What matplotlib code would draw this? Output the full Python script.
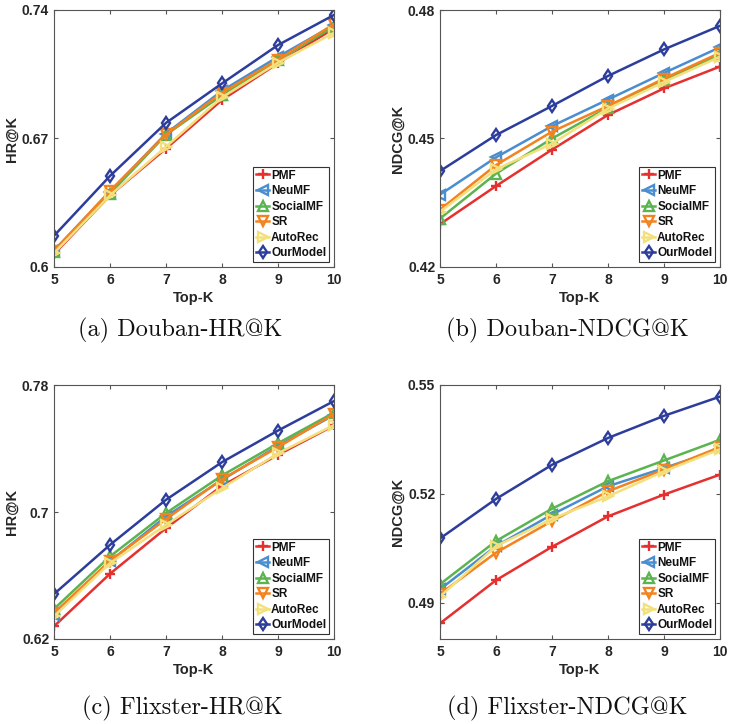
import matplotlib
matplotlib.use('Agg')
import matplotlib.pyplot as plt

# Top-K
topk = [5, 6, 7, 8, 9, 10]
methods = ['PMF', 'NeuMF', 'SocialMF', 'SR', 'AutoRec', 'OurModel']

# (a) Douban HR@K
douban_hr_pmf = [0.607, 0.639, 0.6645, 0.691, 0.711, 0.730]
douban_hr_neumf = [0.609, 0.641, 0.6727, 0.696, 0.7145, 0.7318]
douban_hr_socialmf = [0.608, 0.640, 0.672, 0.6936, 0.7127, 0.731]
douban_hr_sr = [0.6087, 0.6415, 0.6722, 0.695, 0.713, 0.7324]
douban_hr_autorec = [0.6076, 0.639, 0.6655, 0.6924, 0.7113, 0.7276]
douban_hr_ours = [0.617, 0.6496, 0.6785, 0.700, 0.7209, 0.7373]

# (b) Douban NDCG@K
douban_ndcg_pmf = [0.430, 0.4389, 0.4474, 0.4555, 0.4617, 0.4668]
douban_ndcg_neumf = [0.4369, 0.4456, 0.4529, 0.4591, 0.4653, 0.4713]
douban_ndcg_socialmf = [0.4313, 0.4418, 0.450, 0.4572, 0.4636, 0.4695]
douban_ndcg_sr = [0.4334, 0.4438, 0.4516, 0.4576, 0.4640, 0.4700]
douban_ndcg_autorec = [0.4329, 0.4428, 0.4488, 0.457, 0.4632, 0.4691]
douban_ndcg_ours = [0.4424, 0.4508, 0.4576, 0.4646, 0.4708, 0.4763]

# (c) Flixster HR@K
flixster_hr_pmf = [0.628, 0.6611, 0.6898, 0.7165, 0.736, 0.7545]
flixster_hr_neumf = [0.6353, 0.6689, 0.6972, 0.7202, 0.7416, 0.7611]
flixster_hr_socialmf = [0.6389, 0.672, 0.6993, 0.723, 0.7433, 0.7626]
flixster_hr_sr = [0.6364, 0.6693, 0.6955, 0.7207, 0.7408, 0.7618]
flixster_hr_autorec = [0.6343, 0.6678, 0.6919, 0.715, 0.737, 0.7548]
flixster_hr_ours = [0.6483, 0.6793, 0.7077, 0.7314, 0.7513, 0.7699]

# (d) Flixster NDCG@K
flixster_ndcg_pmf = [0.4843, 0.4962, 0.5054, 0.5138, 0.5198, 0.5253]
flixster_ndcg_neumf = [0.4937, 0.5056, 0.5143, 0.5221, 0.5271, 0.5323]
flixster_ndcg_socialmf = [0.4951, 0.5070, 0.5159, 0.5235, 0.5292, 0.5349]
flixster_ndcg_sr = [0.4924, 0.5038, 0.5125, 0.5207, 0.5267, 0.5329]
flixster_ndcg_autorec = [0.4917, 0.5056, 0.5131, 0.5193, 0.5262, 0.5323]
flixster_ndcg_ours = [0.5077, 0.5186, 0.528, 0.5354, 0.5415, 0.5468]

colors = ['#e5302f', '#4a8ecf', '#5bb450', '#f4821f', '#f3e07c', '#2c3d9c']
markers = ['+', '<', '^', 'v', '>', 'd']

plt.rcParams['font.family'] = ['Liberation Sans', 'DejaVu Sans']
plt.rcParams['font.weight'] = 'bold'

fig = plt.figure(figsize=(7.3, 7.24), dpi=100)

panels = [
    # [series, ylabel, ylim, yticks, axes rect, caption, caption pos]
    [[douban_hr_pmf, douban_hr_neumf, douban_hr_socialmf, douban_hr_sr, douban_hr_autorec, douban_hr_ours],
     'HR@K', (0.6, 0.74), [0.6, 0.67, 0.74], ['0.6', '0.67', '0.74'],
     [54/730, 1-267/724, 280/730, 257/724], '(a) Douban-HR@K', (180/730, 1-330/724)],
    [[douban_ndcg_pmf, douban_ndcg_neumf, douban_ndcg_socialmf, douban_ndcg_sr, douban_ndcg_autorec, douban_ndcg_ours],
     'NDCG@K', (0.42, 0.48), [0.42, 0.45, 0.48], ['0.42', '0.45', '0.48'],
     [440/730, 1-267/724, 280/730, 257/724], '(b) Douban-NDCG@K', (567/730, 1-330/724)],
    [[flixster_hr_pmf, flixster_hr_neumf, flixster_hr_socialmf, flixster_hr_sr, flixster_hr_autorec, flixster_hr_ours],
     'HR@K', (0.62, 0.78), [0.62, 0.7, 0.78], ['0.62', '0.7', '0.78'],
     [54/730, 1-639/724, 280/730, 254/724], '(c) Flixster-HR@K', (182/730, 1-708/724)],
    [[flixster_ndcg_pmf, flixster_ndcg_neumf, flixster_ndcg_socialmf, flixster_ndcg_sr, flixster_ndcg_autorec, flixster_ndcg_ours],
     'NDCG@K', (0.48, 0.55), [0.49, 0.52, 0.55], ['0.49', '0.52', '0.55'],
     [440/730, 1-639/724, 280/730, 254/724], '(d) Flixster-NDCG@K', (567/730, 1-708/724)],
]

for series, ylab, ylim, yticks, ytlabels, rect, cap, cpos in panels:
    ax = fig.add_axes(rect)
    for vals, name, c, m in zip(series, methods, colors, markers):
        ax.plot(topk, vals, color=c, marker=m, markersize=6.5, markeredgewidth=1.7,
                markerfacecolor='none', linewidth=1.8, label=name)
    ax.set_xlim(5, 10)
    ax.set_ylim(*ylim)
    ax.set_xticks(topk)
    ax.set_yticks(yticks)
    ax.set_yticklabels(ytlabels)
    ax.tick_params(direction='in', length=3, width=0.8, colors='#555555',
                   labelcolor='#262626', labelsize=10, top=True, right=True)
    ax.tick_params(axis='x', pad=4)
    ax.tick_params(axis='y', pad=3.5)
    for sp in ax.spines.values():
        sp.set_color('#555555')
        sp.set_linewidth(0.8)
    ax.set_xlabel('Top-K', fontsize=10.5, fontweight='bold', color='#262626', labelpad=3)
    ax.set_ylabel(ylab, fontsize=10.5, fontweight='bold', color='#262626', labelpad=2)
    leg = ax.legend(loc='lower right', fontsize=8.5, handlelength=1.15, handletextpad=0.15,
                    labelspacing=0.3, borderpad=0.25, borderaxespad=0.4,
                    fancybox=False, framealpha=1, edgecolor='#333333')
    leg.get_frame().set_linewidth(0.8)
    for t in leg.get_texts():
        t.set_fontweight('bold')
        t.set_color('#111111')
    fig.text(cpos[0], cpos[1], cap, ha='center', va='center', fontsize=17.5,
             family=['cmr10', 'DejaVu Serif'], fontweight='normal', color='#111111')

fig.savefig('out.png', dpi=100)
